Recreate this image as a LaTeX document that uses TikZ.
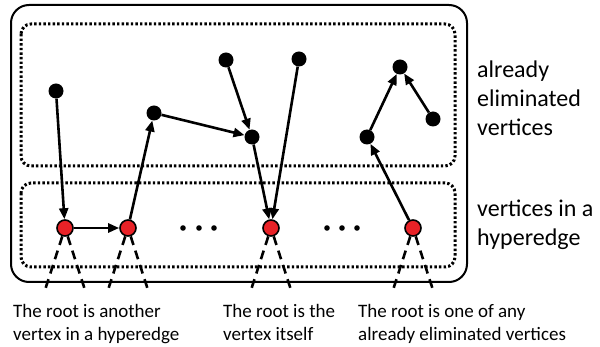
\documentclass[tikz,border=0pt]{standalone}
\usepackage{fontspec}
\setmainfont{Carlito}
\usetikzlibrary{arrows.meta}
\definecolor{rootred}{RGB}{232,34,39}
\newcommand{\elimv}[3]{
\node[elim](#1) at (#2,#3) {};
}
\newcommand{\hypv}[3]{
\node[hyp](#1) at (#2,#3) {};
\coordinate (#1l) at (#2-20,290);
\coordinate (#1r) at (#2+20,290);
\draw[cone](#1)--(#1l);
\draw[cone](#1)--(#1r);
}
\begin{document}
\begin{tikzpicture}[x=1pt,y=-1pt,
 elim/.style={circle,fill=black,inner sep=0pt,minimum size=15pt},
 hyp/.style={circle,draw=black,line width=1.6pt,fill=rootred,inner sep=0pt,minimum size=16pt},
 edge/.style={line width=2.6pt,-{Triangle[length=11pt,width=9pt]}},
 cone/.style={line width=2.6pt,dash pattern=on 9pt off 6pt},
 outer/.style={line width=2pt,rounded corners=18pt},
 dotbox/.style={line width=3pt,dash pattern=on 2.4pt off 2.2pt,rounded corners=10pt},
 lbl/.style={inner sep=0pt,align=left,font=\fontsize{24}{29}\selectfont},
 note/.style={inner sep=0pt,align=left,font=\fontsize{19}{23}\selectfont}]
\useasboundingbox (0,0) rectangle (600,347);

% frames
\draw[outer](11,5) rectangle (467,282);
\draw[dotbox](21,24) rectangle (455,166);
\draw[dotbox](21,183) rectangle (455,267);

% eliminated vertices
\elimv{a1}{56}{91}
\elimv{a2}{154}{113}
\elimv{a3}{226}{60}
\elimv{a4}{252}{137}
\elimv{a5}{299}{59}
\elimv{b1}{400}{67}
\elimv{b2}{433}{119}
\elimv{b3}{367}{137}

% vertices in the hyperedge
\hypv{r1}{65}{228}
\hypv{r2}{128}{228}
\hypv{r3}{271}{228}
\hypv{r4}{413}{228}

\fill(183,228) circle (2.8pt);
\fill(199,228) circle (2.8pt);
\fill(214,228) circle (2.8pt);
\fill(327,228) circle (2.8pt);
\fill(342,228) circle (2.8pt);
\fill(357,228) circle (2.8pt);

\draw[edge](a1)--(r1);
\draw[edge](r1)--(r2);
\draw[edge](r2)--(a2);
\draw[edge](a2)--(a4);
\draw[edge](a3)--(a4);
\draw[edge](a4)--(r3);
\draw[edge](a5)--(r3);
\draw[edge](r4)--(b3);
\draw[edge](b3)--(b1);
\draw[edge](b2)--(b1);

% labels
\node[lbl,anchor=west](elimlbl) at (477,98) {already\\eliminated\\vertices};
\node[lbl,anchor=west](hyplbl) at (477,225) {vertices in a\\hyperedge};
\node[note,anchor=north west](note1) at (13,304) {The root is another\\vertex in a hyperedge};
\node[note,anchor=north west](note2) at (223,304) {The root is the\\vertex itself};
\node[note,anchor=north west](note3) at (358,304) {The root is one of any\\already eliminated vertices};

\end{tikzpicture}
\end{document}
